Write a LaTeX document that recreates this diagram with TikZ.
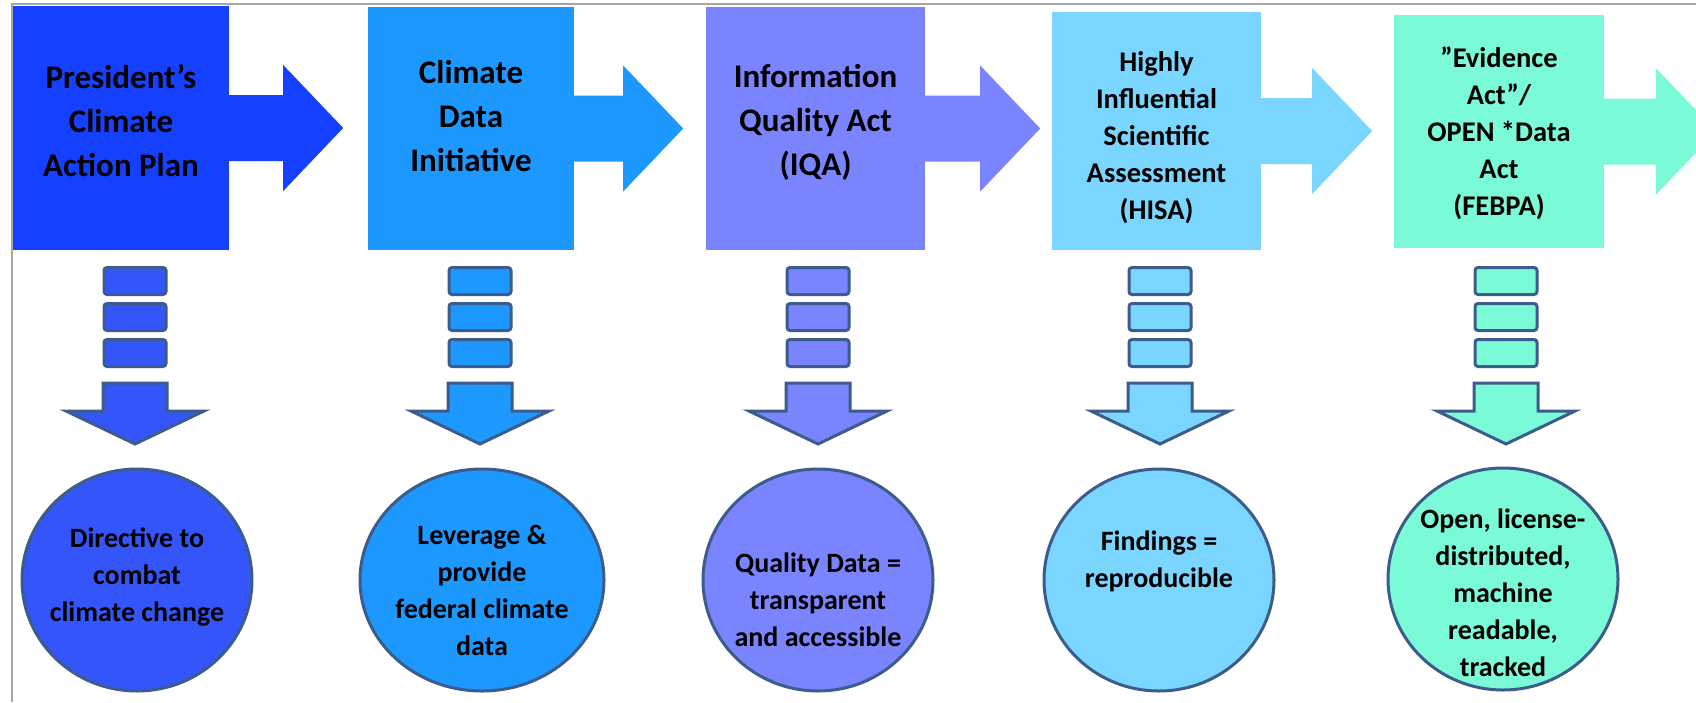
\documentclass[tikz,border=0pt]{standalone}
\usepackage{fontspec}
\setmainfont{Carlito}
\usetikzlibrary{calc,shapes.geometric}
\definecolor{cboxA}{HTML}{1540FF}
\definecolor{clowA}{HTML}{3355FA}
\definecolor{cB}{HTML}{1C98FF}
\definecolor{cC}{HTML}{7A84FF}
\definecolor{cD}{HTML}{7AD6FF}
\definecolor{cE}{HTML}{7AFAD6}
\definecolor{edgeblue}{HTML}{3C5C8C}
\definecolor{framegray}{HTML}{A6A6A6}
\newcommand\ctext[2]{\raisebox{#1}[0pt][0pt]{\makebox[0pt]{\begin{tabular}[t]{@{}c@{}}#2\end{tabular}}}}
\newcommand\harrow[3]{\fill[#3] ($(#1.east)+(-2,-33)$) -- ++({#2+2},0) -- ++(0,-30) -- ++(60,63) -- ++(-60,63) -- ++(0,-30) -- ++({-#2-2},0) -- cycle;}
\newcommand\downcol[3]{%
  \node[bar,fill=#3] (#1a) at (#2,281) {};
  \node[bar,fill=#3] (#1b) at (#2,317) {};
  \node[bar,fill=#3] (#1c) at (#2,353) {};
  \filldraw[fill=#3,draw=edgeblue,line width=3pt,line join=miter]
    ($(#1c.south)+(-32,15)$) -- ++(64,0) -- ++(0,28) -- ++(37,0)
    -- ($(#1c.south)+(0,76)$) -- ++(-69,-33) -- ++(37,0) -- cycle;}
\begin{document}
\begin{tikzpicture}[x=1pt,y=-1pt,
  box/.style={rectangle,inner sep=0pt,font=\bfseries\fontsize{33}{44}\selectfont},
  boxs/.style={rectangle,inner sep=0pt,font=\bfseries\fontsize{28.5}{37}\selectfont},
  bar/.style={rectangle,rounded corners=3pt,draw=edgeblue,line width=3pt,minimum width=62pt,minimum height=27pt,inner sep=0pt},
  disc/.style={ellipse,draw=edgeblue,line width=3pt,minimum width=230pt,minimum height=222pt,inner sep=0pt,font=\bfseries\fontsize{28}{37}\selectfont}]
\useasboundingbox (0,0) rectangle (1696,702);
\clip (0,0) rectangle (1696,702);
\fill[white] (0,0) rectangle (1696,702);
\draw[framegray,line width=2pt] (12,702) -- (12,4) -- (1696,4);

% top boxes
\node[box,fill=cboxA,minimum width=216pt,minimum height=244pt] (b1) at (121,128) {\ctext{40pt}{President’s\\Climate\\Action Plan}};
\node[box,fill=cB,minimum width=206pt,minimum height=243pt] (b2) at (471,128.5) {\ctext{45pt}{Climate\\Data\\Initiative}};
\node[box,fill=cC,minimum width=219pt,minimum height=243pt] (b3) at (815.5,128.5) {\ctext{41pt}{Information\\Quality Act\\(IQA)}};
\node[boxs,fill=cD,minimum width=209pt,minimum height=238pt] (b4) at (1156.5,131) {\ctext{60pt}{Highly\\Influential\\Scientific\\Assessment\\(HISA)}};
\node[boxs,fill=cE,minimum width=210pt,minimum height=233pt] (b5) at (1499,131.5) {\ctext{64pt}{”Evidence\\Act”/\\OPEN *Data\\Act\\(FEBPA)}};

% block arrows
\harrow{b1}{54}{cboxA}
\harrow{b2}{49}{cB}
\harrow{b3}{55}{cC}
\harrow{b4}{51}{cD}
\harrow{b5}{52}{cE}

% down columns
\downcol{d1}{135}{clowA}
\downcol{d2}{480}{cB}
\downcol{d3}{818}{cC}
\downcol{d4}{1160}{cD}
\downcol{d5}{1506}{cE}

% result discs
\node[disc,fill=clowA] (c1) at (137,580) {\ctext{33pt}{Directive to\\combat\\climate change}};
\node[disc,fill=cB,minimum width=244pt] (c2) at (482,580) {\ctext{36pt}{Leverage \&\\provide\\federal climate\\data}};
\node[disc,fill=cC] (c3) at (818,580) {\ctext{8pt}{Quality Data =\\transparent\\and accessible}};
\node[disc,fill=cD] (c4) at (1159,580) {\ctext{30pt}{Findings =\\reproducible}};
\node[disc,fill=cE] (c5) at (1503,579) {\ctext{51pt}{Open, license-\\distributed,\\machine\\readable,\\tracked}};
\end{tikzpicture}
\end{document}
